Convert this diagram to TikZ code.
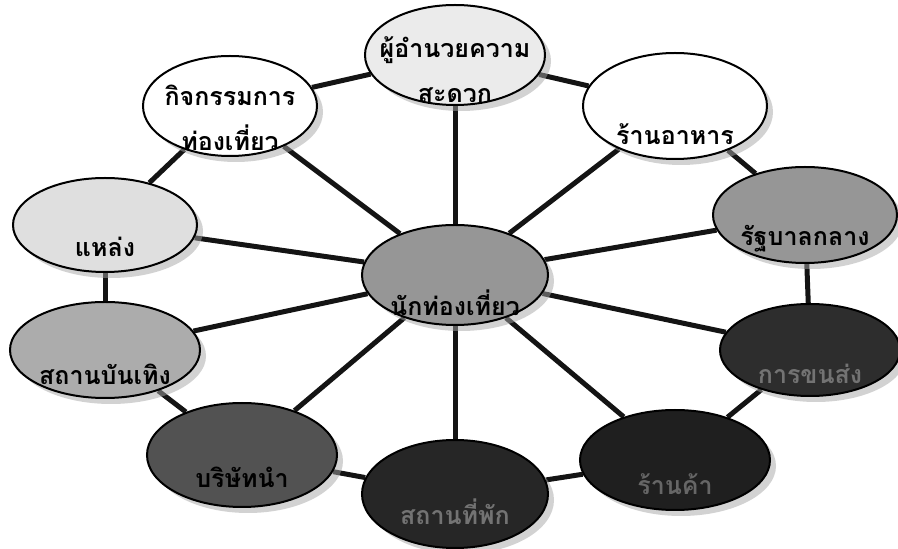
\documentclass[tikz,border=0pt]{standalone}
\usepackage{fontspec}
\usepackage{xcolor}
\usepackage{tikz}
\usetikzlibrary{shapes.geometric, shadows, backgrounds}
\newfontfamily\thaifont[Script=Thai]{Loma}
\definecolor{ringgray}{RGB}{20, 20, 20}
\definecolor{paleshade}{RGB}{235, 235, 235}
\definecolor{midshade}{RGB}{150, 150, 150}
\definecolor{darkshade}{RGB}{45, 45, 45}

\tikzset{
    bubble/.style={ellipse, draw=black, line width=2pt, inner sep=0pt,
        minimum width=186pt, minimum height=100pt,
        drop shadow={shadow xshift=6pt, shadow yshift=-6pt, fill=gray!70}},
    lbl/.style={font=\thaifont\bfseries\fontsize{25}{45}\selectfont,
        align=center, inner sep=0pt},
    spoke/.style={line width=5pt, ringgray},
}

\begin{document}
\begin{tikzpicture}[x=1pt, y=1pt]
    \useasboundingbox (0,0) rectangle (898,549);

    % CENTRE
    \node[bubble, fill=midshade,
        label={[lbl, yshift=-28pt]center:นักท่องเที่ยว}] (tourist) at (455,274) {};

    % OUTER RING (clockwise from top)
    \node[bubble, fill=paleshade, minimum width=180pt,
        label={[lbl, yshift=-15pt]center:{ผู้อำนวยความ\\สะดวก}}] (facil) at (455,494) {};
    \node[bubble, fill=white, minimum width=184pt, minimum height=106pt,
        label={[lbl, yshift=-28pt]center:ร้านอาหาร}] (food) at (675,443) {};
    \node[bubble, fill=midshade, minimum width=184pt, minimum height=96pt,
        label={[lbl, yshift=-24pt]center:รัฐบาลกลาง}] (govt) at (805,334) {};
    \node[bubble, fill=darkshade, minimum width=180pt, minimum height=92pt,
        label={[lbl, black!55, yshift=-24pt]center:การขนส่ง}] (transport) at (810,199) {};
    \node[bubble, fill=black!88, minimum width=190pt,
        label={[lbl, black!60, yshift=-24pt]center:ร้านค้า}] (shop) at (675,89) {};
    \node[bubble, fill=black!85, minimum height=108pt,
        label={[lbl, black!55, yshift=-18pt]center:สถานที่พัก}] (lodge) at (455,55) {};
    \node[bubble, fill=black!68, minimum width=190pt, minimum height=104pt,
        label={[lbl, yshift=-22pt]center:บริษัทนำ}] (tour) at (242,94) {};
    \node[bubble, fill=gray!65, minimum width=190pt, minimum height=96pt,
        label={[lbl, yshift=-24pt]center:สถานบันเทิง}] (nightlife) at (105,199) {};
    \node[bubble, fill=gray!25, minimum width=184pt, minimum height=94pt,
        label={[lbl, yshift=-22pt]center:แหล่ง}] (attract) at (105,324) {};
    \node[bubble, fill=white, minimum width=174pt,
        label={[lbl, yshift=-12pt]center:{กิจกรรมการ\\ท่องเที่ยว}}] (activity) at (230,443) {};

    % CONNECTORS
    \begin{scope}[on background layer]
        \foreach \p in {facil,food,govt,transport,shop,lodge,tour,nightlife,attract,activity}
            \draw[spoke] (tourist) -- (\p);
        \foreach \a/\b in {facil/food, food/govt, govt/transport, transport/shop,
                           shop/lodge, lodge/tour, tour/nightlife,
                           nightlife/attract, attract/activity, activity/facil}
            \draw[spoke] (\a) -- (\b);
    \end{scope}

\end{tikzpicture}
\end{document}
